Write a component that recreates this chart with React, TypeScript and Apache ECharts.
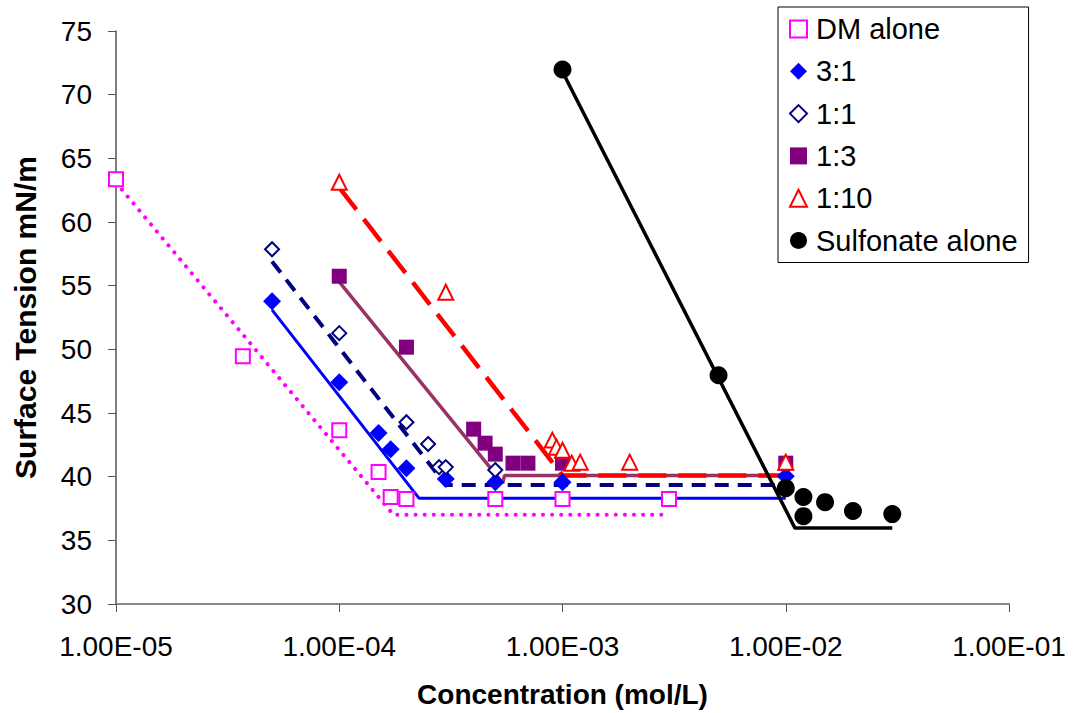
import React, { useEffect, useRef } from "react";
import * as echarts from "echarts";

const FONT = "'Liberation Sans', Arial, sans-serif";

// Measured points [concentration mol/L, surface tension mN/m]
const dmAlone: [number, number][] = [
  [1e-5, 63.35], [3.7e-5, 49.46], [1e-4, 43.65], [1.5e-4, 40.36], [1.7e-4, 38.4],
  [2e-4, 38.24], [5e-4, 38.24], [1e-3, 38.24], [3e-3, 38.24],
];
const ratio31: [number, number][] = [
  [5e-5, 53.78], [1e-4, 47.42], [1.5e-4, 43.42], [1.7e-4, 42.16], [2e-4, 40.67],
  [3e-4, 39.81], [5e-4, 39.57], [1e-3, 39.57], [1e-2, 40.04],
];
const ratio11: [number, number][] = [
  [5e-5, 57.86], [1e-4, 51.27], [2e-4, 44.28], [2.5e-4, 42.56], [2.8e-4, 40.75],
  [3e-4, 40.75], [5e-4, 40.52],
];
const ratio13: [number, number][] = [
  [1e-4, 55.74], [2e-4, 50.17], [4e-4, 43.73], [4.5e-4, 42.63], [5e-4, 41.77],
  [6e-4, 41.06], [7e-4, 41.06], [1e-3, 41.06], [1e-2, 41.06],
];
const ratio110: [number, number][] = [
  [1e-4, 63.12], [3e-4, 54.48], [9e-4, 42.87], [9.4e-4, 42.32], [1e-3, 42.08],
  [1.1e-3, 41.06], [1.2e-3, 41.14], [2e-3, 41.14], [1e-2, 41.14],
];
const sulfonate: [number, number][] = [
  [1e-3, 71.98], [5e-3, 47.97], [1e-2, 39.1], [1.2e-2, 38.4], [1.2e-2, 36.9],
  [1.5e-2, 38.0], [2e-2, 37.3], [3e-2, 37.06],
];

// Fitted trend lines
const dmFit: [number, number][] = [[1e-5, 63.1], [1.75e-4, 37.0], [3e-3, 37.0]];
const fit31: [number, number][] = [[5e-5, 53.1], [2.28e-4, 38.3], [1e-2, 38.3]];
const fit11: [number, number][] = [[5e-5, 56.9], [3e-4, 39.35], [1e-2, 39.35]];
const fit13: [number, number][] = [[1e-4, 55.3], [5.4e-4, 39.5], [5.5e-4, 40.1], [1e-2, 40.1]];
const fit110: [number, number][] = [[1e-4, 62.7], [1e-3, 40.1], [1e-2, 40.1]];
const fitSulf: [number, number][] = [[1e-3, 71.8], [1.1e-2, 35.96], [3e-2, 35.96]];

const legendNames = ["DM alone", "3:1", "1:1", "1:3", "1:10", "Sulfonate alone"];

function fmtExp(v: number): string {
  const e = Math.round(Math.log10(v));
  const sign = e < 0 ? "-" : "+";
  const abs = Math.abs(e);
  return "1.00E" + sign + (abs < 10 ? "0" + abs : String(abs));
}

export default function App() {
  const ref = useRef<HTMLDivElement>(null);
  useEffect(() => {
    if (!ref.current) return;
    const chart = echarts.init(ref.current, undefined, { renderer: "svg" });
    const line = (name: string, data: [number, number][], color: string, width: number, type: any, cap: any = "butt") => ({
      name,
      type: "line",
      data,
      showSymbol: false,
      symbol: "none",
      silent: true,
      z: 2,
      lineStyle: { color, width, type, cap },
    });
    const scatter = (name: string, data: [number, number][], symbol: string, size: number, color: string) => ({
      name,
      type: "scatter",
      data,
      symbol,
      symbolSize: size,
      z: 3,
      itemStyle: { color, opacity: 1 },
    });
    chart.setOption({
      animation: false,
      backgroundColor: "#fff",
      textStyle: { fontFamily: FONT },
      grid: { left: 116, right: 66, top: 31, bottom: 109, containLabel: false },
      legend: {
        data: legendNames,
        orient: "vertical",
        left: 778,
        top: 7,
        padding: [7, 11, 7, 11],
        itemGap: 12.3,
        itemWidth: 17,
        itemHeight: 17,
        backgroundColor: "#fff",
        borderColor: "#000",
        borderWidth: 1,
        selectedMode: false,
        textStyle: { fontSize: 29, color: "#000", fontFamily: FONT, lineHeight: 30, padding: [0, 0, 0, 4] },
      },
      xAxis: {
        type: "log",
        logBase: 10,
        min: 1e-5,
        max: 1e-1,
        name: "Concentration (mol/L)",
        nameLocation: "middle",
        nameGap: 76,
        nameTextStyle: { fontSize: 28, fontWeight: "bold", color: "#000", fontFamily: FONT },
        axisLine: { show: true, onZero: false, lineStyle: { color: "#888", width: 2 } },
        axisTick: { show: true, inside: false, length: 8, lineStyle: { color: "#555", width: 1 } },
        minorTick: { show: false },
        splitLine: { show: false },
        axisLabel: { fontSize: 28, color: "#000", margin: 28, fontFamily: FONT, formatter: (v: number) => fmtExp(v) },
      },
      yAxis: {
        type: "value",
        min: 30,
        max: 75,
        interval: 5,
        name: "Surface Tension mN/m",
        nameLocation: "middle",
        nameGap: 76,
        nameTextStyle: { fontSize: 30, fontWeight: "bold", color: "#000", fontFamily: FONT },
        axisLine: { show: true, onZero: false, lineStyle: { color: "#555", width: 1.5 } },
        axisTick: { show: true, inside: false, length: 8, lineStyle: { color: "#555", width: 1 } },
        splitLine: { show: false },
        axisLabel: { fontSize: 28, color: "#000", margin: 24, fontFamily: FONT },
      },
      series: [
        line("DM fit", dmFit, "#FF00FF", 4, [0.1, 9], "round"),
        line("3:1 fit", fit31, "#0000FF", 3, "solid"),
        line("1:1 fit", fit11, "#000080", 4, [14, 9]),
        line("1:3 fit", fit13, "#993366", 3.5, "solid"),
        line("1:10 fit", fit110, "#FF0000", 4.5, [28, 12]),
        line("Sulfonate fit", fitSulf, "#000000", 3.5, "solid"),
        scatter("DM alone", dmAlone, "emptyRect", 14, "#FF00FF"),
        scatter("3:1", ratio31, "diamond", 18, "#0000FF"),
        scatter("1:1", ratio11, "emptyDiamond", 14, "#000080"),
        scatter("1:3", ratio13, "rect", 15, "#800080"),
        scatter("1:10", ratio110, "emptyTriangle", 15, "#FF0000"),
        scatter("Sulfonate alone", sulfonate, "circle", 18, "#000000"),
      ],
    });
    return () => chart.dispose();
  }, []);
  return <div ref={ref} style={{ position: "fixed", left: 0, top: 0, width: 1075, height: 713 }} />;
}
